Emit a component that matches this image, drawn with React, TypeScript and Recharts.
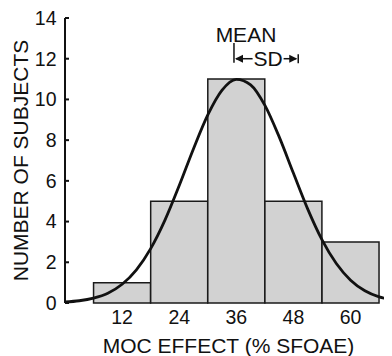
import React from "react"
import {
  ComposedChart,
  Bar,
  Line,
  XAxis,
  YAxis,
  Label,
  ReferenceLine,
} from "recharts"

// histogram bins (centre of each 12% wide bin) and subject counts
const BIN_CENTERS = [12, 24, 36, 48, 60]
const SUBJECT_COUNTS = [1, 5, 11, 5, 3]

// fitted normal curve, sampled along the effect axis
const CURVE_X = [0, 3, 6, 9, 12, 15, 18, 21, 24, 27, 30, 33, 36, 39, 42, 45, 48, 51, 54, 57, 60, 63, 66, 68.7]
const CURVE_Y = [0.05, 0.11, 0.24, 0.48, 0.92, 1.63, 2.67, 4.07, 5.77, 7.58, 9.24, 10.46, 10.99, 10.72, 9.71, 8.16, 6.37, 4.61, 3.1, 1.94, 1.12, 0.6, 0.3, 0.16]

const X_TICKS = [12, 24, 36, 48, 60]
const Y_TICKS = [0, 2, 4, 6, 8, 10, 12, 14]

const MEAN_EFFECT = 35.5
const SD_EFFECT = 13.5

const X_MAX = 68.7
const INK = "#111"
const FONT = "'Liberation Sans', Arial, sans-serif"
const Y_LABEL_GAP = 8.5

const barData = BIN_CENTERS.map((x, i) => ({ x, count: SUBJECT_COUNTS[i] }))
const curveData = CURVE_X.map((x, i) => ({ x, y: CURVE_Y[i] }))

// y tick: number on the left, short tick pointing into the plot
const YTick = ({ x, y, payload }: any) => {
  const axisX = x + Y_LABEL_GAP
  return (
    <g>
      <line x1={axisX} y1={y} x2={axisX + 4} y2={y} stroke={INK} strokeWidth={2} />
      <text x={x} y={y} dy="0.355em" textAnchor="end" fontSize={19.5} fill={INK}>
        {payload.value}
      </text>
    </g>
  )
}

const YTitle = ({ viewBox }: any) => {
  const cx = viewBox.x + 28
  const cy = viewBox.y + viewBox.height / 2
  return (
    <text
      x={cx}
      y={cy}
      transform={`rotate(-90 ${cx} ${cy})`}
      textAnchor="middle"
      fontSize={21}
      fill={INK}
    >
      NUMBER OF SUBJECTS
    </text>
  )
}

// short vertical tick at the mean with the "MEAN" caption above it
const MeanMark = (p: any) => {
  const top = Math.min(p.y1, p.y2)
  const bottom = Math.max(p.y1, p.y2)
  return (
    <g>
      <line x1={p.x1} y1={top} x2={p.x1} y2={bottom} stroke={INK} strokeWidth={1.5} />
      <text x={p.x1 + 12} y={top - 1} textAnchor="middle" fontSize={21} fill={INK}>
        MEAN
      </text>
    </g>
  )
}

// double arrow spanning one standard deviation, "SD" written in the gap
const SdArrow = (p: any) => {
  const { x1, x2, y1 } = p
  const mid = (x1 + x2) / 2 + 2
  const gap = 15.5
  return (
    <g>
      <line x1={x1 + 2} y1={y1} x2={mid - gap} y2={y1} stroke={INK} strokeWidth={1.5} />
      <line x1={mid + gap} y1={y1} x2={x2 - 2} y2={y1} stroke={INK} strokeWidth={1.5} />
      <polygon points={`${x1 + 1},${y1} ${x1 + 9},${y1 - 4} ${x1 + 9},${y1 + 4}`} fill={INK} />
      <polygon points={`${x2 - 1},${y1} ${x2 - 9},${y1 - 4} ${x2 - 9},${y1 + 4}`} fill={INK} />
      <line x1={x2} y1={y1 - 4.5} x2={x2} y2={y1 + 4.5} stroke={INK} strokeWidth={1.5} />
      <text x={mid} y={y1} dy="0.36em" textAnchor="middle" fontSize={21} fill={INK}>
        SD
      </text>
    </g>
  )
}

export default function App() {
  return (
    <div style={{ margin: "-8px 0 0 -8px", width: 392, height: 356, fontFamily: FONT }}>
      <ComposedChart
        width={392}
        height={356}
        data={barData}
        margin={{ top: 18, right: 0, bottom: 0, left: 0 }}
        barCategoryGap={0}
        barGap={0}
      >
        <XAxis
          xAxisId="bins"
          dataKey="x"
          type="number"
          domain={[0, X_MAX]}
          ticks={X_TICKS}
          allowDataOverflow
          axisLine={false}
          tickLine={false}
          tickSize={0}
          tickMargin={7}
          height={53}
          tick={{ fill: INK, fontSize: 19.5 }}
        >
          <Label value="MOC EFFECT (% SFOAE)" position="insideBottom" offset={3} fill={INK} fontSize={21} />
        </XAxis>
        <XAxis xAxisId="curve" dataKey="x" type="number" domain={[0, X_MAX]} allowDataOverflow hide />
        <YAxis
          domain={[0, 14]}
          ticks={Y_TICKS}
          width={65}
          stroke={INK}
          strokeWidth={2}
          tickLine={false}
          tickSize={0}
          tickMargin={Y_LABEL_GAP}
          tick={YTick}
        >
          <Label content={YTitle} />
        </YAxis>

        <Bar
          xAxisId="bins"
          dataKey="count"
          fill="#d2d2d2"
          stroke="#1a1a1a"
          strokeWidth={1.5}
          isAnimationActive={false}
        />
        <Line
          xAxisId="curve"
          data={curveData}
          dataKey="y"
          type="monotone"
          stroke={INK}
          strokeWidth={2.8}
          dot={false}
          activeDot={false}
          isAnimationActive={false}
        />

        <ReferenceLine
          xAxisId="curve"
          segment={[{ x: MEAN_EFFECT, y: 11.8 }, { x: MEAN_EFFECT, y: 12.77 }]}
          shape={MeanMark}
        />
        <ReferenceLine
          xAxisId="curve"
          segment={[{ x: MEAN_EFFECT, y: 12 }, { x: MEAN_EFFECT + SD_EFFECT, y: 12 }]}
          shape={SdArrow}
        />
      </ComposedChart>
    </div>
  )
}
